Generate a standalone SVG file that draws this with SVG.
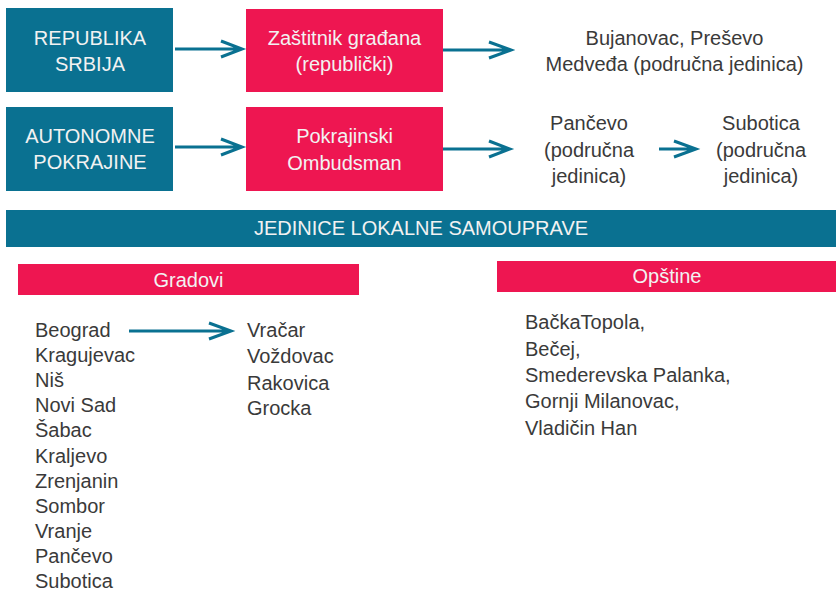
<svg xmlns="http://www.w3.org/2000/svg" width="836" height="591" viewBox="0 0 836 591">
<style>
.teal{fill:#0a7191}
.pink{fill:#ee1651}
.wt{fill:#f2f2f2;font-family:"Liberation Sans",Arial,sans-serif;font-size:20px;text-anchor:middle}
.dt{fill:#3a3a3a;font-family:"Liberation Sans",Arial,sans-serif;font-size:20px}
.dc{text-anchor:middle}
.arr{fill:none;stroke:#0a7191;stroke-width:3}
</style>
<rect width="836" height="591" fill="#ffffff"/>
<g id="republika">
<rect class="teal" x="6" y="8" width="167" height="84"/>
<text class="wt" x="90" y="45">REPUBLIKA</text>
<text class="wt" x="90" y="71">SRBIJA</text>
</g>
<g id="autonomne">
<rect class="teal" x="6" y="107" width="167" height="84"/>
<text class="wt" x="90" y="143">AUTONOMNE</text>
<text class="wt" x="90" y="169">POKRAJINE</text>
</g>
<g id="zastitnik">
<rect class="pink" x="246" y="9" width="197" height="83"/>
<text class="wt" x="344.5" y="45">Zaštitnik građana</text>
<text class="wt" x="344.5" y="71">(republički)</text>
</g>
<g id="pokrajinski">
<rect class="pink" x="246" y="107" width="197" height="84"/>
<text class="wt" x="344.5" y="143">Pokrajinski</text>
<text class="wt" x="344.5" y="170">Ombudsman</text>
</g>
<g id="bujanovac">
<text class="dt dc" x="674.5" y="45">Bujanovac, Preševo</text>
<text class="dt dc" x="674.5" y="71">Medveđa (područna jedinica)</text>
</g>
<g id="pancevo">
<text class="dt dc" x="589" y="130">Pančevo</text>
<text class="dt dc" x="589" y="157">(područna</text>
<text class="dt dc" x="589" y="183">jedinica)</text>
</g>
<g id="subotica">
<text class="dt dc" x="761" y="130">Subotica</text>
<text class="dt dc" x="761" y="157">(područna</text>
<text class="dt dc" x="761" y="183">jedinica)</text>
</g>
<g id="jedinice">
<rect class="teal" x="6" y="210" width="830" height="37"/>
<text class="wt" x="421" y="235">JEDINICE LOKALNE SAMOUPRAVE</text>
</g>
<g id="gradovi">
<rect class="pink" x="18" y="264" width="341" height="31"/>
<text class="wt" x="188.5" y="287">Gradovi</text>
</g>
<g id="opstine">
<rect class="pink" x="497" y="261" width="339" height="31"/>
<text class="wt" x="667" y="283">Opštine</text>
</g>
<g id="gradovi-list">
<text class="dt" x="35" y="337">Beograd</text>
<text class="dt" x="35" y="362.1">Kragujevac</text>
<text class="dt" x="35" y="387.2">Niš</text>
<text class="dt" x="35" y="412.3">Novi Sad</text>
<text class="dt" x="35" y="437.4">Šabac</text>
<text class="dt" x="35" y="462.5">Kraljevo</text>
<text class="dt" x="35" y="487.6">Zrenjanin</text>
<text class="dt" x="35" y="512.7">Sombor</text>
<text class="dt" x="35" y="537.8">Vranje</text>
<text class="dt" x="35" y="562.9">Pančevo</text>
<text class="dt" x="35" y="588">Subotica</text>
</g>
<g id="beograd-opstine">
<text class="dt" x="247" y="337">Vračar</text>
<text class="dt" x="247" y="363">Voždovac</text>
<text class="dt" x="247" y="389.5">Rakovica</text>
<text class="dt" x="247" y="415">Grocka</text>
</g>
<g id="opstine-list">
<text class="dt" x="525" y="329">BačkaTopola,</text>
<text class="dt" x="525" y="356">Bečej,</text>
<text class="dt" x="525" y="382">Smederevska Palanka,</text>
<text class="dt" x="525" y="408">Gornji Milanovac,</text>
<text class="dt" x="525" y="435">Vladičin Han</text>
</g>
<g id="connectors">
<path class="arr" d="M175,49H242M221,41L242,49L221,57"/>
<path class="arr" d="M175,147H242M221,139L242,147L221,155"/>
<path class="arr" d="M443,50H511M489,42L511,50L489,58"/>
<path class="arr" d="M443,149H510M489,141L510,149L489,157"/>
<path class="arr" d="M659,149H696M674,141L696,149L674,157"/>
<path class="arr" d="M129,331H231M209,323L231,331L209,339"/>
</g>
</svg>
